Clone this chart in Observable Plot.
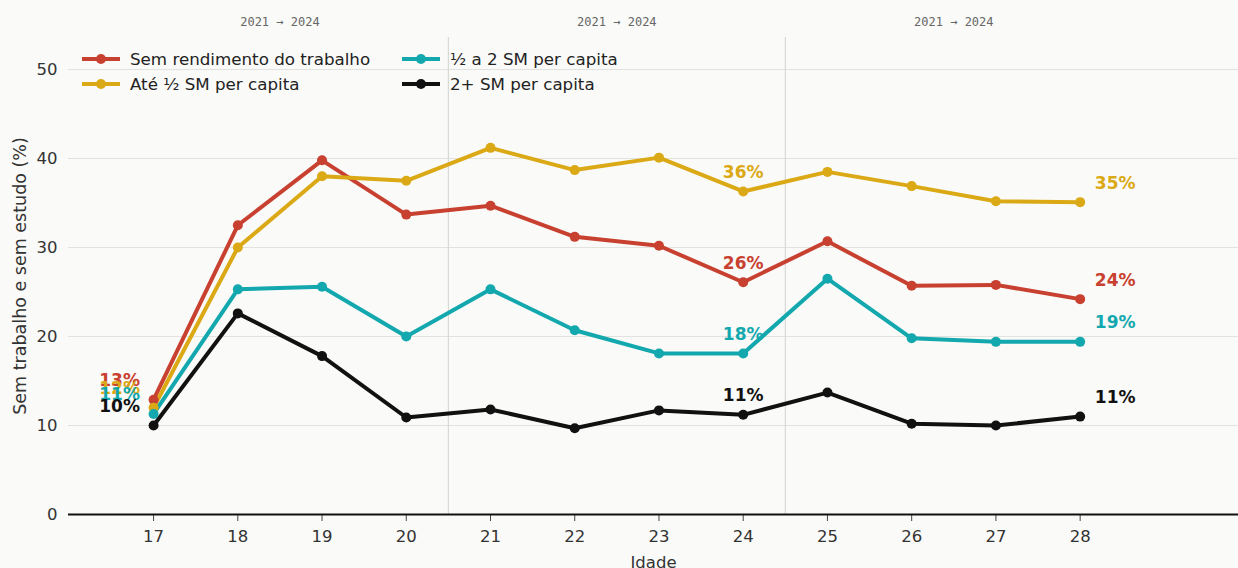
<!DOCTYPE html>
<html><head><meta charset="utf-8">
<script src="https://cdn.jsdelivr.net/npm/d3@7"></script>
<script src="https://cdn.jsdelivr.net/npm/@observablehq/plot@0.6"></script>
<style>
body{margin:0;background:#fafaf8;overflow:hidden;font-family:"DejaVu Sans",sans-serif;}
#wrap{position:relative;width:1238px;height:568px;overflow:hidden;}
#legend{position:absolute;left:82px;top:47px;display:grid;grid-template-columns:320px 260px;row-gap:1px;font-size:16.7px;color:#222;}
.item{display:flex;align-items:center;height:24px;}
.item svg{margin-right:10px;}
</style></head>
<body><div id="wrap"><div id="chart"></div><div id="legend"></div></div>
<script>
const ages = [17, 18, 19, 20, 21, 22, 23, 24, 25, 26, 27, 28];
const seriesNames = ["Sem rendimento do trabalho", "Até ½ SM per capita", "½ a 2 SM per capita", "2+ SM per capita"];
const semRendimento = [12.9, 32.5, 39.8, 33.7, 34.7, 31.2, 30.2, 26.1, 30.7, 25.7, 25.8, 24.2];
const ateMeioSM = [12.0, 30.0, 38.0, 37.5, 41.2, 38.7, 40.1, 36.3, 38.5, 36.9, 35.2, 35.1];
const meioA2SM = [11.3, 25.3, 25.6, 20.0, 25.3, 20.7, 18.1, 18.1, 26.5, 19.8, 19.4, 19.4];
const mais2SM = [10.0, 22.6, 17.8, 10.9, 11.8, 9.7, 11.7, 11.2, 13.7, 10.2, 10.0, 11.0];
const colors = ["#c8402f", "#dba915", "#12a8ae", "#111111"];
const yTicks = [0, 10, 20, 30, 40, 50];
const separators = [20.5, 24.5];
const periodCenters = [18.5, 22.5, 26.5];
const periodLabels = ["2021 → 2024", "2021 → 2024", "2021 → 2024"];
const labelAges = [17, 24, 28];
const labelDx = [-34, 0, 35];

const valuesBySeries = [semRendimento, ateMeioSM, meioA2SM, mais2SM];
const data = [];
seriesNames.forEach((s, i) => ages.forEach((a, j) => data.push({serie: s, idade: a, valor: valuesBySeries[i][j]})));
const periods = periodCenters.map((c, i) => ({x: c, label: periodLabels[i]}));
const colorScale = {domain: seriesNames, range: colors};

const labelMarks = labelAges.map((a, k) => Plot.text(data.filter(d => d.idade === a), {
  x: "idade", y: "valor", text: d => Math.round(d.valor) + "%", fill: "serie",
  dx: labelDx[k], dy: -19, fontWeight: "bold", fontSize: 17, textAnchor: "middle"
}));

const chart = Plot.plot({
  width: 1238, height: 582,
  marginLeft: 68, marginRight: 0, marginTop: 37, marginBottom: 68,
  style: {background: "#fafaf8", fontFamily: "DejaVu Sans, sans-serif", fontSize: "16px", color: "#333", overflow: "visible"},
  x: {domain: [15.99, 29.88], label: null},
  y: {domain: [0, 53.6], label: null},
  color: colorScale,
  marks: [
    Plot.ruleY(yTicks, {stroke: "#e2e2df", strokeWidth: 1}),
    Plot.ruleX(separators, {stroke: "#d8d8d5", strokeWidth: 1.2}),
    Plot.axisY({ticks: yTicks, tickSize: 0, tickPadding: 11, fontSize: 16.5, label: null, fill: "#333"}),
    Plot.text(["Sem trabalho e sem estudo (%)"], {frameAnchor: "left", dx: -48, rotate: -90, fontSize: 17.5, fill: "#333", textAnchor: "middle"}),
    Plot.axisX({ticks: ages, tickSize: 7, tickPadding: 9, fontSize: 16.5, stroke: "#444", label: "Idade", labelAnchor: "center", labelArrow: "none", labelOffset: 53, fill: "#333"}),
    Plot.ruleY([0], {stroke: "#111", strokeWidth: 2}),
    Plot.text(periods, {x: "x", frameAnchor: "top", dy: -20, text: "label", fontFamily: "DejaVu Sans Mono, monospace", fontSize: 12, fill: "#666"}),
    Plot.line(data, {x: "idade", y: "valor", z: "serie", stroke: "serie", strokeWidth: 4}),
    Plot.dot(data, {x: "idade", y: "valor", fill: "serie", r: 5}),
    ...labelMarks
  ]
});
document.getElementById("chart").appendChild(chart);

const legend = document.getElementById("legend");
const order = [0, 2, 1, 3];
order.forEach(i => {
  const div = document.createElement("div");
  div.className = "item";
  div.innerHTML = `<svg width="38" height="12"><line x1="0" x2="38" y1="6" y2="6" stroke="${colors[i]}" stroke-width="4"/><circle cx="19" cy="6" r="5" fill="${colors[i]}"/></svg><span>${seriesNames[i]}</span>`;
  legend.appendChild(div);
});
</script>
</body></html>
